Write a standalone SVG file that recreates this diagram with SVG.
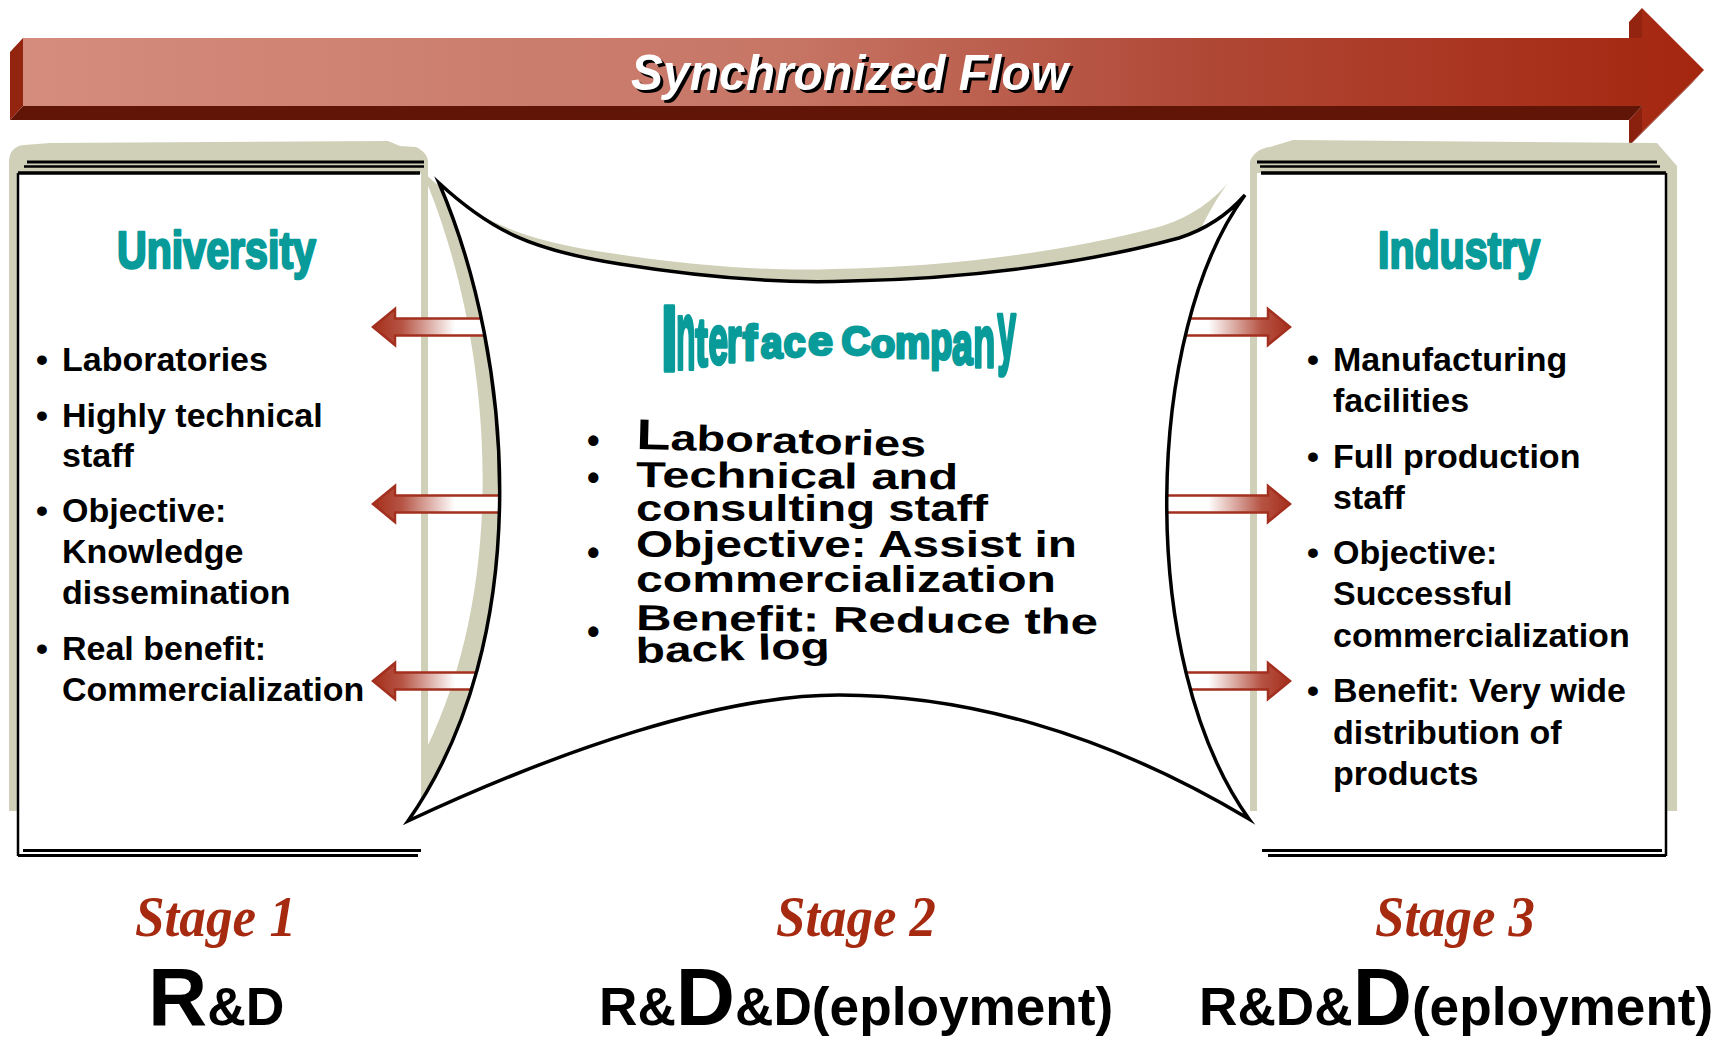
<svg xmlns="http://www.w3.org/2000/svg" width="1730" height="1043" viewBox="0 0 1730 1043">
<defs>
<linearGradient id="flowGrad" x1="23" y1="0" x2="1704" y2="0" gradientUnits="userSpaceOnUse">
<stop offset="0" stop-color="#D48C7C"/>
<stop offset="0.45" stop-color="#C77666"/>
<stop offset="0.7" stop-color="#B04836"/>
<stop offset="1" stop-color="#A4260F"/>
</linearGradient>
<linearGradient id="gradL" x1="373" y1="0" x2="455" y2="0" gradientUnits="userSpaceOnUse">
<stop offset="0" stop-color="#A52E1B"/>
<stop offset="0.35" stop-color="#B65444"/>
<stop offset="1" stop-color="#FFFFFF"/>
</linearGradient>
<linearGradient id="gradR" x1="1290" y1="0" x2="1208" y2="0" gradientUnits="userSpaceOnUse">
<stop offset="0" stop-color="#A52E1B"/>
<stop offset="0.35" stop-color="#B65444"/>
<stop offset="1" stop-color="#FFFFFF"/>
</linearGradient>
<path id="cshape" d="M439,183 C490,230 530,250 620,264 C720,280 800,283 850,281 C960,279 1080,265 1179,238 C1210,228 1230,212 1245,195 C1145,330 1135,660 1249,819 C1100,730 960,695 839,695 C720,695 560,750 408,821 C535,640 515,360 439,183 Z"/>
<style>
.beige{fill:#D0D0B8}
.ln{stroke:#000;fill:none}
.bt{font-family:"Liberation Sans",Arial,sans-serif;font-weight:bold;font-size:34px;fill:#000}
.ttl{font-family:"Liberation Sans",Arial,sans-serif;font-weight:bold;fill:#089B99;stroke:#089B99;stroke-width:2.5;stroke-linejoin:round}
.ct{font-family:"Liberation Sans",Arial,sans-serif;font-weight:bold;font-size:36px;fill:#000}
.cb{font-family:"Liberation Sans",Arial,sans-serif;font-weight:bold;font-size:36px;fill:#000}
.stg{font-family:"Liberation Serif","Times New Roman",serif;font-weight:bold;font-style:italic;font-size:56px;fill:#A62A10}
.rd{font-family:"Liberation Sans",Arial,sans-serif;font-weight:bold;fill:#000}
.arrL{fill:url(#gradL);stroke:#A3301F;stroke-width:2.5}
.arrR{fill:url(#gradR);stroke:#A3301F;stroke-width:2.5}
.ic text{font-family:"Liberation Sans",Arial,sans-serif;font-weight:bold;font-size:40px;fill:#089B99;stroke:#089B99;stroke-width:2.8;stroke-linejoin:round;vector-effect:non-scaling-stroke}
.sf{font-family:"Liberation Sans",Arial,sans-serif;font-weight:bold;font-style:italic;font-size:50px}
</style>
</defs>

<g id="flow">
<polygon points="1642,38 1642,8 1629,22 1629,52" fill="#922410"/>
<polygon points="1704,70 1642,132 1629,146 1691,84" fill="#7A1C0B"/>
<polygon points="1642,132 1642,106 1629,120 1629,146" fill="#8A200E"/>
<polygon points="1642,106 23,106 10,120 1629,120" fill="#611507"/>
<polygon points="23,106 23,38 10,52 10,120" fill="#922410"/>
<polygon points="23,38 1642,38 1642,8 1704,70 1642,132 1642,106 23,106" fill="url(#flowGrad)"/>
<text class="sf" x="634" y="93" textLength="437" lengthAdjust="spacingAndGlyphs" fill="#000">Synchronized Flow</text>
<text class="sf" x="631" y="90" textLength="437" lengthAdjust="spacingAndGlyphs" fill="#FFF">Synchronized Flow</text>
</g>

<g id="interface-shadow">
<use href="#cshape" transform="translate(-17,-12)" fill="#D0D0B8"/>
</g>

<g id="university">
<path class="beige" d="M9,811 L9,162 C9,152 14,146 24,145 L50,143 L388,141 L400,146 L416,147 C424,151 428,156 428,162 L428,811 Z"/>
<rect x="18" y="173" width="403" height="678" fill="#FFF"/>
<path class="ln" stroke-width="3" d="M27,162 H424"/>
<path class="ln" stroke-width="2.5" d="M24,166.5 H424"/>
<path class="ln" stroke-width="3.5" d="M18,173 H420"/>
<path class="ln" stroke-width="2.5" d="M18,173 V856"/>
<path class="ln" stroke-width="3" d="M23,850.5 H421"/>
<path class="ln" stroke-width="3" d="M18,855.5 H418"/>
<text class="ttl" x="117" y="268" font-size="51" textLength="199" lengthAdjust="spacingAndGlyphs">University</text>
<text class="bt" x="36" y="371">•</text><text class="bt" x="62" y="371">Laboratories</text>
<text class="bt" x="36" y="427">•</text><text class="bt" x="62" y="427">Highly technical</text>
<text class="bt" x="62" y="467">staff</text>
<text class="bt" x="36" y="522">•</text><text class="bt" x="62" y="522">Objective:</text>
<text class="bt" x="62" y="563">Knowledge</text>
<text class="bt" x="62" y="604">dissemination</text>
<text class="bt" x="36" y="660">•</text><text class="bt" x="62" y="660">Real benefit:</text>
<text class="bt" x="62" y="701">Commercialization</text>
</g>

<g id="industry">
<path class="beige" d="M1250,811 L1250,162 C1252,154 1260,148 1270,147 L1293,140 L1657,143 L1677,166 L1677,811 Z"/>
<rect x="1257" y="173" width="409" height="678" fill="#FFF"/>
<path class="ln" stroke-width="3" d="M1257,162 H1657"/>
<path class="ln" stroke-width="2.5" d="M1260,166.5 H1660"/>
<path class="ln" stroke-width="3.5" d="M1261,173 H1666"/>
<path class="ln" stroke-width="2.5" d="M1666,173 V856"/>
<path class="ln" stroke-width="3" d="M1262,850.5 H1662"/>
<path class="ln" stroke-width="3" d="M1268,855.5 H1666"/>
<text class="ttl" x="1378" y="268" font-size="51" textLength="162" lengthAdjust="spacingAndGlyphs">Industry</text>
<text class="bt" x="1307" y="371">•</text><text class="bt" x="1333" y="371">Manufacturing</text>
<text class="bt" x="1333" y="412">facilities</text>
<text class="bt" x="1307" y="468">•</text><text class="bt" x="1333" y="468">Full production</text>
<text class="bt" x="1333" y="509">staff</text>
<text class="bt" x="1307" y="564">•</text><text class="bt" x="1333" y="564">Objective:</text>
<text class="bt" x="1333" y="605">Successful</text>
<text class="bt" x="1333" y="647">commercialization</text>
<text class="bt" x="1307" y="702">•</text><text class="bt" x="1333" y="702">Benefit: Very wide</text>
<text class="bt" x="1333" y="744">distribution of</text>
<text class="bt" x="1333" y="785">products</text>
</g>

<g id="connectors">
<polygon class="arrL" transform="translate(0,327)" points="373,0 395,-18 395,-8.5 520,-8.5 520,8.5 395,8.5 395,18"/>
<polygon class="arrL" transform="translate(0,504)" points="373,0 395,-18 395,-8.5 520,-8.5 520,8.5 395,8.5 395,18"/>
<polygon class="arrL" transform="translate(0,681)" points="373,0 395,-18 395,-8.5 520,-8.5 520,8.5 395,8.5 395,18"/>
<polygon class="arrR" transform="translate(0,327)" points="1290,0 1268,-18 1268,-8.5 1140,-8.5 1140,8.5 1268,8.5 1268,18"/>
<polygon class="arrR" transform="translate(0,504)" points="1290,0 1268,-18 1268,-8.5 1140,-8.5 1140,8.5 1268,8.5 1268,18"/>
<polygon class="arrR" transform="translate(0,681)" points="1290,0 1268,-18 1268,-8.5 1140,-8.5 1140,8.5 1268,8.5 1268,18"/>
</g>

<g id="interface">
<use href="#cshape" fill="#FFF" stroke="#000" stroke-width="3.5" stroke-miterlimit="12"/>
<g class="ic">
<text transform="translate(660.5,371) scale(1.6,2.38)">I</text>
<text transform="translate(676,369) scale(0.8,2.45)">n</text>
<text transform="translate(695.3,366) scale(0.95,1.7)">t</text>
<text transform="translate(708.6,364) scale(0.88,1.76)">e</text>
<text transform="translate(726.7,362) scale(0.95,1.63)">r</text>
<text transform="translate(742.5,360) scale(1.1,1.25)">f</text>
<text transform="translate(760.8,358) scale(0.98,1.12)">a</text>
<text transform="translate(783.5,357) scale(1.0,1.08)">c</text>
<text transform="translate(808,355) scale(1.12,1.0)">e</text>
<text transform="translate(841.5,355) scale(1.0,1.03)">C</text>
<text transform="translate(870.8,357) scale(1.0,0.96)">o</text>
<text transform="translate(895,358) scale(0.99,1.12)">m</text>
<text transform="translate(930.2,359) scale(0.9,1.28)">p</text>
<text transform="translate(952,364) scale(0.93,1.5)">a</text>
<text transform="translate(973.2,367) scale(0.9,1.84)">n</text>
<text transform="translate(997.2,359) scale(0.85,2.1)">y</text>
</g>
<text class="cb" x="587" y="453">•</text>
<text class="ct" x="636" y="449" textLength="290" lengthAdjust="spacingAndGlyphs" transform="rotate(1.5 636 449)"><tspan font-size="43">L</tspan>aboratories</text>
<text class="cb" x="587" y="490">•</text>
<text class="ct" x="636" y="487" textLength="322" lengthAdjust="spacingAndGlyphs" transform="rotate(0.4 636 487)">Technical and</text>
<text class="ct" x="636" y="521" textLength="352" lengthAdjust="spacingAndGlyphs">consulting staff</text>
<text class="cb" x="587" y="565">•</text>
<text class="ct" x="636" y="557" textLength="441" lengthAdjust="spacingAndGlyphs">Objective: Assist in</text>
<text class="ct" x="636" y="592" textLength="420" lengthAdjust="spacingAndGlyphs">commercialization</text>
<text class="cb" x="587" y="644">•</text>
<text class="ct" x="636" y="630" textLength="462" lengthAdjust="spacingAndGlyphs" transform="rotate(0.5 636 630)">Benefit: Reduce the</text>
<text class="ct" x="636" y="663" textLength="194" lengthAdjust="spacingAndGlyphs" transform="rotate(-1.5 636 663)">back log</text>
</g>

<g id="stage1">
<text class="stg" x="135" y="936" textLength="161" lengthAdjust="spacingAndGlyphs">Stage 1</text>
<text class="rd" x="148" y="1025"><tspan font-size="82">R</tspan><tspan font-size="53.5">&amp;D</tspan></text>
</g>
<g id="stage2">
<text class="stg" x="776" y="936" textLength="160" lengthAdjust="spacingAndGlyphs">Stage 2</text>
<text class="rd" x="599" y="1025" font-size="53.2">R&amp;<tspan font-size="82">D</tspan>&amp;D(eployment)</text>
</g>
<g id="stage3">
<text class="stg" x="1375" y="936" textLength="160" lengthAdjust="spacingAndGlyphs">Stage 3</text>
<text class="rd" x="1199" y="1025" font-size="53.2">R&amp;D&amp;<tspan font-size="82">D</tspan>(eployment)</text>
</g>
</svg>
